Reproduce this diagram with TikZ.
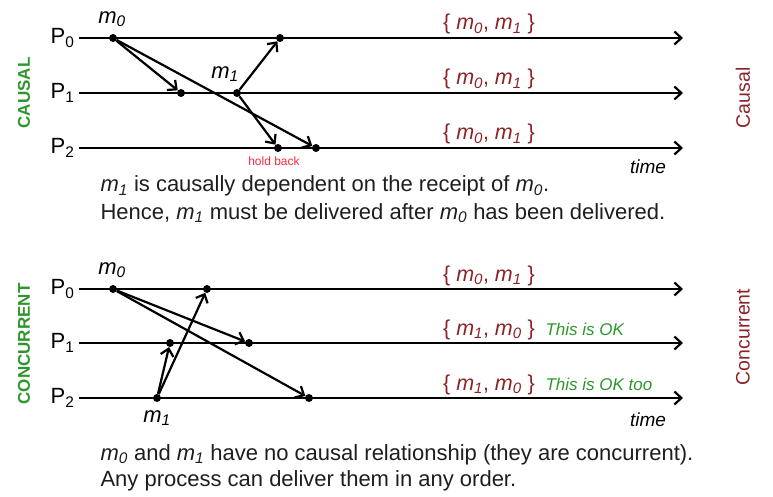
\documentclass[tikz,border=0pt]{standalone}
\usepackage{fontspec}
\setmainfont{Liberation Sans}
\usetikzlibrary{arrows.meta}
\definecolor{setred}{RGB}{140,35,40}
\definecolor{okgreen}{RGB}{45,150,45}
\definecolor{holdred}{RGB}{250,40,60}
\definecolor{txtgray}{RGB}{30,30,30}
\newcommand{\msub}[1]{\textit{m\textsubscript{#1}}}
\tikzset{
  ev/.style={circle,fill=black,inner sep=0pt,minimum size=8pt},
  proc/.style={line width=2.2pt,-{Straight Barb[length=7pt,width=13pt,line width=2.2pt]}},
  msg/.style={line width=2.2pt,-{Straight Barb[length=7pt,width=13pt,line width=2.2pt]}},
  plabel/.style={anchor=east,font=\fontsize{22}{26}\selectfont},
  mlabel/.style={font=\fontsize{22}{26}\selectfont},
  setlabel/.style={anchor=base,text=setred,font=\fontsize{21.5}{26}\selectfont},
  oklabel/.style={anchor=base west,text=okgreen,font=\fontsize{17}{20}\selectfont\itshape},
  sidelabel/.style={rotate=90,text=okgreen,font=\fontsize{17}{20}\selectfont\bfseries},
  kindlabel/.style={rotate=90,text=setred,font=\fontsize{19.5}{22}\selectfont},
  timelabel/.style={anchor=base,font=\fontsize{19}{22}\selectfont\itshape},
  note/.style={anchor=base west,text=txtgray,font=\fontsize{22}{26}\selectfont}
}
\begin{document}
\begin{tikzpicture}[x=1pt,y=-1pt]
\useasboundingbox (0,0) rectangle (773,497);
%Prozesse oben
\foreach \i/\y in {0/38,1/93,2/148}{
  \coordinate (cs\i) at (79,\y);
  \coordinate (ce\i) at (683,\y);
  \draw[proc] (cs\i) -- (ce\i);
  \node[plabel] (cp\i) at (78,\y) {P\textsubscript{\i}};
  \node[setlabel] (cset\i) at (489,\y-8) {\{ \msub{0}, \msub{1} \}};
}
%Ereignisse oben
\node[ev] (ca) at (113,38) {};
\node[ev] (cb) at (181,93) {};
\node[ev] (cc) at (237,93) {};
\node[ev] (cd) at (280,38) {};
\node[ev] (ce) at (278,148) {};
\node[ev] (cf) at (316,148) {};
%Nachrichten oben
\draw[msg] (ca) -- (cb);
\draw[msg] (ca) -- (cf);
\draw[msg] (cc) -- (cd);
\draw[msg] (cc) -- (ce);
%Beschriftung oben
\node[mlabel] (cm0) at (112,19) {\msub{0}};
\node[mlabel] (cm1) at (225,74) {\msub{1}};
\node[text=holdred,font=\fontsize{12}{14}\selectfont] (hold) at (274,161) {hold back};
\node[timelabel] (ctime) at (648,174) {time};
\node[sidelabel] (causal) at (24,93) {CAUSAL};
\node[kindlabel] (kcausal) at (743,98) {Causal};
\node[note] (cn1) at (97,192) {\msub{1} is causally dependent on the receipt of \msub{0}.};
\node[note] (cn2) at (97,219) {Hence, \msub{1} must be delivered after \msub{0} has been delivered.};
%Prozesse unten
\foreach \i/\y in {0/289,1/343,2/398}{
  \coordinate (ks\i) at (79,\y);
  \coordinate (ke\i) at (683,\y);
  \draw[proc] (ks\i) -- (ke\i);
  \node[plabel] (kp\i) at (78,\y) {P\textsubscript{\i}};
}
\node[setlabel] (kset0) at (489,281) {\{ \msub{0}, \msub{1} \}};
\node[setlabel] (kset1) at (489,335) {\{ \msub{1}, \msub{0} \}};
\node[setlabel] (kset2) at (489,390) {\{ \msub{1}, \msub{0} \}};
\node[oklabel] (ok1) at (542,335) {This is OK};
\node[oklabel] (ok2) at (542,390) {This is OK too};
%Ereignisse unten
\node[ev] (ka) at (113,289) {};
\node[ev] (kb) at (249,343) {};
\node[ev] (kc) at (309,398) {};
\node[ev] (kd) at (157,398) {};
\node[ev] (ke) at (170,343) {};
\node[ev] (kf) at (207,289) {};
%Nachrichten unten
\draw[msg] (ka) -- (kb);
\draw[msg] (ka) -- (kc);
\draw[msg] (kd) -- (ke);
\draw[msg] (kd) -- (kf);
%Beschriftung unten
\node[mlabel] (km0) at (112,270) {\msub{0}};
\node[mlabel] (km1) at (157,418) {\msub{1}};
\node[timelabel] (ktime) at (648,426) {time};
\node[sidelabel] (concurrent) at (24,344) {CONCURRENT};
\node[kindlabel] (kconc) at (743,337) {Concurrent};
\node[note] (kn1) at (97,460) {\msub{0} and \msub{1} have no causal relationship (they are concurrent).};
\node[note] (kn2) at (97,486) {Any process can deliver them in any order.};
\end{tikzpicture}
\end{document}
